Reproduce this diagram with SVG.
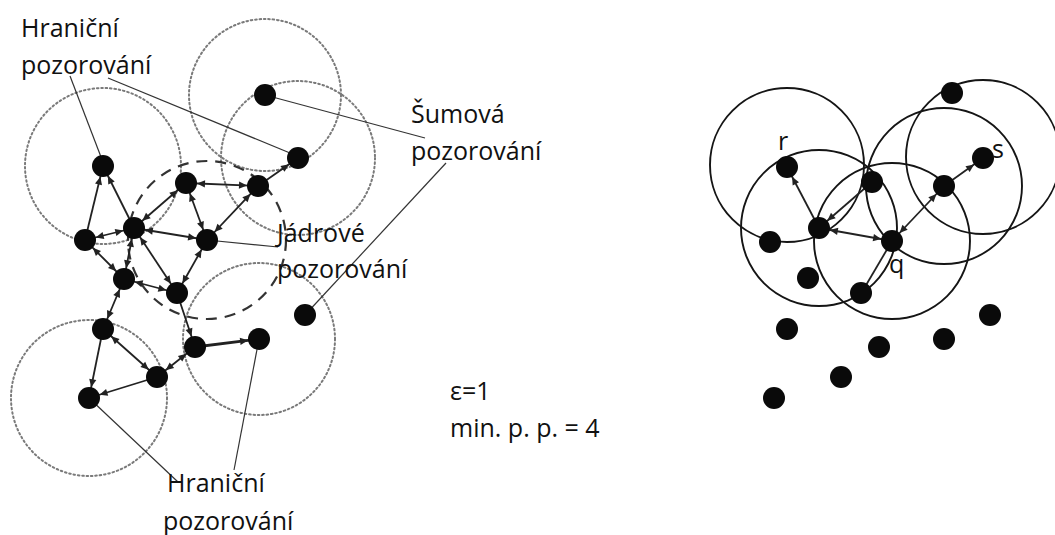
<svg xmlns="http://www.w3.org/2000/svg" width="1055" height="535" viewBox="0 0 1055 535">
<style>
.bg{fill:#fff}
.dot{fill:none;stroke:#7a7a7a;stroke-width:2;stroke-dasharray:1.6 2.8;stroke-linecap:round}
.dash{fill:none;stroke:#333;stroke-width:2.2;stroke-dasharray:11 8}
.ring{fill:none;stroke:#151515;stroke-width:1.9}
.e{stroke:#222;stroke-width:1.8;fill:none}
.thick{stroke-width:2.8}
.lead{stroke:#333;stroke-width:1.2;fill:none}
.n{fill:#0a0a0a}
text{font-family:"Open Sans","Liberation Sans",sans-serif;font-size:25px;fill:#111}
</style>
<defs>
<marker id="ah" viewBox="-22 -6 22 12" markerWidth="22" markerHeight="12" refX="0" refY="0" orient="auto-start-reverse" markerUnits="userSpaceOnUse" overflow="visible">
<path d="M-11,0 L-19,-3.6 L-19,3.6 Z" fill="#222"/>
</marker>
</defs>
<rect class="bg" x="0" y="0" width="1055" height="535"/>

<g id="ranges">
<circle class="dot" cx="265" cy="95" r="76"/>
<circle class="dot" cx="298" cy="158" r="77"/>
<circle class="dot" cx="103" cy="166" r="78"/>
<circle class="dot" cx="259" cy="339" r="76"/>
<circle class="dot" cx="89" cy="398" r="78"/>
<circle class="dash" cx="207" cy="240" r="79"/>
<circle class="ring" cx="787" cy="165" r="77"/>
<circle class="ring" cx="819" cy="228" r="78"/>
<circle class="ring" cx="892" cy="241" r="78"/>
<circle class="ring" cx="944" cy="186" r="78"/>
<circle class="ring" cx="983" cy="157" r="77"/>
</g>

<g id="connectors">
<line class="e" x1="85" y1="240" x2="103" y2="166" marker-end="url(#ah)"/>
<line class="e" x1="134" y1="228" x2="103" y2="166" marker-end="url(#ah)"/>
<line class="e" x1="134" y1="228" x2="85" y2="240" marker-start="url(#ah)" marker-end="url(#ah)"/>
<line class="e" x1="134" y1="228" x2="186" y2="183" marker-start="url(#ah)" marker-end="url(#ah)"/>
<line class="e" x1="186" y1="183" x2="258" y2="186" marker-start="url(#ah)" marker-end="url(#ah)"/>
<line class="e" x1="186" y1="183" x2="207" y2="240" marker-start="url(#ah)" marker-end="url(#ah)"/>
<line class="e" x1="258" y1="186" x2="207" y2="240" marker-start="url(#ah)" marker-end="url(#ah)"/>
<line class="e" x1="134" y1="228" x2="207" y2="240" marker-start="url(#ah)" marker-end="url(#ah)"/>
<line class="e" x1="258" y1="186" x2="298" y2="158" marker-end="url(#ah)"/>
<line class="e" x1="85" y1="240" x2="124" y2="279" marker-start="url(#ah)" marker-end="url(#ah)"/>
<line class="e" x1="134" y1="228" x2="124" y2="279" marker-start="url(#ah)" marker-end="url(#ah)"/>
<line class="e" x1="134" y1="228" x2="177" y2="293" marker-start="url(#ah)" marker-end="url(#ah)"/>
<line class="e" x1="207" y1="240" x2="177" y2="293" marker-start="url(#ah)" marker-end="url(#ah)"/>
<line class="e" x1="124" y1="279" x2="177" y2="293" marker-start="url(#ah)" marker-end="url(#ah)"/>
<line class="e" x1="124" y1="279" x2="103" y2="329" marker-start="url(#ah)" marker-end="url(#ah)"/>
<line class="e" x1="177" y1="293" x2="195" y2="347" marker-end="url(#ah)"/>
<line class="e" x1="103" y1="329" x2="157" y2="377" marker-start="url(#ah)" marker-end="url(#ah)"/>
<line class="e" x1="103" y1="329" x2="89" y2="398" marker-end="url(#ah)"/>
<line class="e" x1="157" y1="377" x2="89" y2="398" marker-end="url(#ah)"/>
<line class="e" x1="195" y1="347" x2="157" y2="377" marker-start="url(#ah)" marker-end="url(#ah)"/>
<line class="e thick" x1="195" y1="347" x2="259" y2="339" marker-end="url(#ah)"/>

<line class="e" x1="819" y1="228" x2="787" y2="167" marker-end="url(#ah)"/>
<line class="e" x1="819" y1="228" x2="892" y2="241" marker-start="url(#ah)" marker-end="url(#ah)"/>
<line class="e" x1="872" y1="182" x2="819" y2="228" marker-end="url(#ah)"/>
<line class="e" x1="892" y1="241" x2="944" y2="186" marker-start="url(#ah)" marker-end="url(#ah)"/>
<line class="e" x1="944" y1="186" x2="983" y2="158" marker-end="url(#ah)"/>
<line class="e" x1="892" y1="241" x2="862" y2="292"/>

<line class="lead" x1="70" y1="76" x2="101" y2="157"/>
<line class="lead" x1="108" y1="78" x2="290" y2="153"/>
<line class="lead" x1="265" y1="95" x2="425" y2="138"/>
<line class="lead" x1="446" y1="163" x2="305" y2="315"/>
<line class="lead" x1="207" y1="240" x2="278" y2="247"/>
<line class="lead" x1="89" y1="398" x2="178" y2="482"/>
<line class="lead" x1="259" y1="339" x2="234" y2="470"/>
</g>

<g id="nodes-left">
<circle id="nA" class="n" cx="265" cy="95" r="11"/>
<circle id="nB" class="n" cx="298" cy="158" r="11"/>
<circle id="nC" class="n" cx="103" cy="166" r="11"/>
<circle id="nD" class="n" cx="186" cy="183" r="11"/>
<circle id="nE" class="n" cx="258" cy="186" r="11"/>
<circle id="nF" class="n" cx="134" cy="228" r="11"/>
<circle id="nG" class="n" cx="85" cy="240" r="11"/>
<circle id="nH" class="n" cx="207" cy="240" r="11"/>
<circle id="nI" class="n" cx="124" cy="279" r="11"/>
<circle id="nJ" class="n" cx="177" cy="293" r="11"/>
<circle id="nK" class="n" cx="103" cy="329" r="11"/>
<circle id="nL" class="n" cx="195" cy="347" r="11"/>
<circle id="nM" class="n" cx="259" cy="339" r="11"/>
<circle id="nN" class="n" cx="157" cy="377" r="11"/>
<circle id="nO" class="n" cx="89" cy="398" r="11"/>
<circle id="nP" class="n" cx="305" cy="315" r="11"/>
</g>

<g id="nodes-right">
<circle id="r1" class="n" cx="952" cy="93" r="11"/>
<circle id="r_r" class="n" cx="787" cy="167" r="11"/>
<circle id="r_s" class="n" cx="983" cy="158" r="11"/>
<circle id="rT" class="n" cx="872" cy="182" r="11"/>
<circle id="rU" class="n" cx="944" cy="186" r="11"/>
<circle id="rV" class="n" cx="819" cy="228" r="11"/>
<circle id="rW" class="n" cx="770" cy="242" r="11"/>
<circle id="r_q" class="n" cx="892" cy="241" r="11"/>
<circle id="rX" class="n" cx="808" cy="278" r="11"/>
<circle id="rY" class="n" cx="861" cy="293" r="11"/>
<circle id="rZ" class="n" cx="990" cy="315" r="11"/>
<circle id="r2" class="n" cx="787" cy="329" r="11"/>
<circle id="r3" class="n" cx="879" cy="347" r="11"/>
<circle id="r4" class="n" cx="944" cy="339" r="11"/>
<circle id="r5" class="n" cx="841" cy="377" r="11"/>
<circle id="r6" class="n" cx="774" cy="398" r="11"/>
</g>

<g id="labels">
<text x="21" y="37">Hraniční</text>
<text x="21" y="74">pozorování</text>
<text x="411" y="123">Šumová</text>
<text x="411" y="160">pozorování</text>
<text x="277" y="242">Jádrové</text>
<text x="277" y="278">pozorování</text>
<text x="167" y="492">Hraniční</text>
<text x="163" y="530">pozorování</text>
<text x="450" y="400">ε=1</text>
<text x="450" y="437">min. p. p. = 4</text>
<text x="778" y="150">r</text>
<text x="992" y="158">s</text>
<text x="889" y="273">q</text>
</g>
</svg>
